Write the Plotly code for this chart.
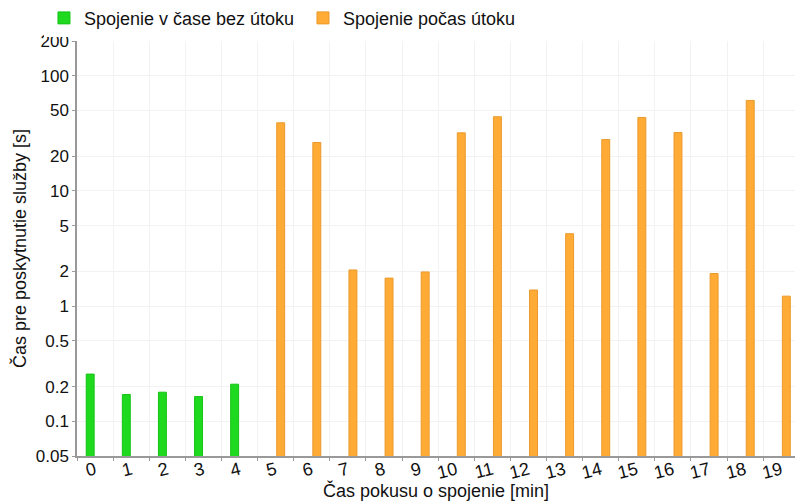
import plotly.graph_objects as go

categories = [str(i) for i in range(20)]
green_cats = categories[:5]
green_vals = [0.257, 0.171, 0.179, 0.164, 0.21]
orange_cats = categories[5:]
orange_vals = [39.0, 26.3, 2.06, 1.75, 1.98, 31.9, 44.0, 1.38, 4.25, 27.9,
               43.4, 32.1, 1.92, 61.0, 1.22]
y_tickvals = [0.05, 0.1, 0.2, 0.5, 1, 2, 5, 10, 20, 50, 100, 200]
y_ticktext = ["0.05", "0.1", "0.2", "0.5", "1", "2", "5", "10", "20", "50", "100", "200"]

series1_name = "Spojenie v čase bez útoku"
series2_name = "Spojenie počas útoku"

FONT = "Liberation Sans, Arial, sans-serif"

fig = go.Figure()
fig.add_trace(go.Bar(
    x=green_cats, y=green_vals, name=series1_name,
    width=0.22, offset=-0.245,
    marker=dict(color="#1ed91e", line=dict(color="#17c417", width=1)),
))
fig.add_trace(go.Bar(
    x=orange_cats, y=orange_vals, name=series2_name,
    width=0.22, offset=0.03,
    marker=dict(color="#ffab35", line=dict(color="#ea9a2c", width=1)),
))

fig.update_layout(
    width=795, height=501,
    margin=dict(l=77, r=0, t=41, b=45, autoexpand=False),
    paper_bgcolor="white", plot_bgcolor="white",
    barmode="overlay",
    font=dict(family=FONT, size=17, color="#111"),
    showlegend=True,
    legend=dict(orientation="h", x=-0.046, xanchor="left", y=1.055, yanchor="middle",
                font=dict(size=18, color="#111"),
                itemwidth=30, traceorder="normal", entrywidth=214),
    xaxis=dict(
        type="category", categoryorder="array", categoryarray=categories,
        range=[-0.5, 19.38], tickson="boundaries", automargin=False,
        ticks="outside", ticklen=3, tickcolor="#999",
        showline=True, linecolor="#999", linewidth=1.5,
        showgrid=True, gridcolor="#f2f2f2", gridwidth=1,
        tickangle=-14, tickfont=dict(size=18, color="#111"), ticklabelstandoff=-5,
        title=dict(text="Čas pokusu o spojenie [min]", font=dict(size=18, color="#111"), standoff=3),
    ),
    yaxis=dict(
        type="log", range=[-1.30103, 2.30103], automargin=False,
        tickvals=y_tickvals, ticktext=y_ticktext,
        ticks="outside", ticklen=3, tickcolor="#999",
        showline=True, linecolor="#999", linewidth=1.5,
        showgrid=True, gridcolor="#f2f2f2", gridwidth=1,
        tickfont=dict(size=17, color="#111"),
        title=dict(text="Čas pre poskytnutie služby [s]", font=dict(size=18, color="#111"), standoff=4),
        zeroline=False,
    ),
)

fig.write_html("out.html", config={"displayModeBar": False},
               post_script="document.body.style.margin='0';document.body.style.padding='0';")
